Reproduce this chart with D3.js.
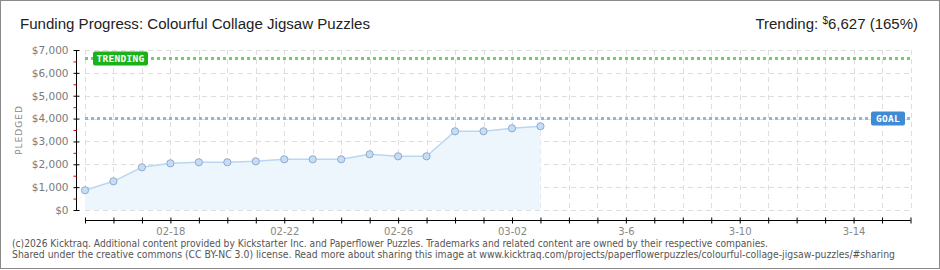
<!DOCTYPE html>
<html><head><meta charset="utf-8">
<script src="https://cdn.jsdelivr.net/npm/d3@7/dist/d3.min.js"></script>
<style>
html,body{margin:0;padding:0;background:#fff;}
svg{display:block;}
</style></head>
<body>
<svg id="c" width="940" height="270"></svg>
<script>
const titleText = "Funding Progress: Colourful Collage Jigsaw Puzzles";
const dates = ["2026-02-15","2026-02-16","2026-02-17","2026-02-18","2026-02-19","2026-02-20","2026-02-21","2026-02-22","2026-02-23","2026-02-24","2026-02-25","2026-02-26","2026-02-27","2026-02-28","2026-03-01","2026-03-02","2026-03-03"];
const pledged = [862,1255,1868,2043,2087,2087,2130,2218,2218,2218,2437,2349,2349,3443,3443,3574,3662];
const goal = 4000;
const trending = 6627;
const trendingPct = "165%";
const yTicks = [0,1000,2000,3000,4000,5000,6000,7000];
const yMinorTicks = [500,1500,2500,3500,4500,5500,6500];
const xTickDates = ["2026-02-18","2026-02-22","2026-02-26","2026-03-02","2026-03-06","2026-03-10","2026-03-14"];
const xTickLabels = ["02-18","02-22","02-26","03-02","3-6","3-10","3-14"];
const domainStart = "2026-02-15", domainEnd = "2026-03-16";
const footer1 = "(c)2026 Kicktraq. Additional content provided by Kickstarter Inc. and Paperflower Puzzles. Trademarks and related content are owned by their respective companies.";
const footer2 = "Shared under the creative commons (CC BY-NC 3.0) license. Read more about sharing this image at www.kicktraq.com/projects/paperflowerpuzzles/colourful-collage-jigsaw-puzzles/#sharing";

const parse = d3.utcParse("%Y-%m-%d");
const svg = d3.select("#c");
const W = 940, H = 270;
const L = 85, R = 910.5, T = 50, B = 210;

svg.append("rect").attr("x",0.5).attr("y",0.5).attr("width",W-1).attr("height",H-2)
  .attr("fill","#fff").attr("stroke","#8a8a8a");

const x = d3.scaleUtc().domain([parse(domainStart), parse(domainEnd)]).range([L, R]);
const y = d3.scaleLinear().domain([0,7000]).range([B, T]);
const allDays = d3.utcDay.range(parse(domainStart), d3.utcDay.offset(parse(domainEnd),1));

// grid
const grid = svg.append("g").attr("stroke","#dedede").attr("stroke-dasharray","5,4").attr("stroke-width",1);
allDays.forEach(d=>{
  grid.append("line").attr("x1",Math.round(x(d))+0.5).attr("x2",Math.round(x(d))+0.5).attr("y1",T).attr("y2",B);
});
yTicks.forEach(v=>{
  grid.append("line").attr("x1",L).attr("x2",R).attr("y1",Math.round(y(v))+0.5).attr("y2",Math.round(y(v))+0.5);
});

const pts = dates.map((d,i)=>({d:parse(d), v:pledged[i]}));
// area
svg.append("path").datum(pts)
  .attr("d", d3.area().x(p=>x(p.d)).y0(y(0)).y1(p=>y(p.v)))
  .attr("fill","#edf5fd");
svg.append("path").datum(pts)
  .attr("d", d3.line().x(p=>x(p.d)).y(p=>y(p.v)))
  .attr("fill","none").attr("stroke","#b9d7f4").attr("stroke-width",1.5);

// goal and trending lines
svg.append("line").attr("x1",L).attr("x2",R).attr("y1",y(trending)).attr("y2",y(trending))
  .attr("stroke","#6fcf6f").attr("stroke-width",3).attr("stroke-dasharray","3,3");
svg.append("line").attr("x1",L).attr("x2",R).attr("y1",y(goal)).attr("y2",y(goal))
  .attr("stroke","#8fb5e2").attr("stroke-width",3).attr("stroke-dasharray","3,3");

// points
svg.append("g").selectAll("circle").data(pts).join("circle")
  .attr("cx",p=>x(p.d)).attr("cy",p=>y(p.v)).attr("r",3.6)
  .attr("fill","#c4def9").attr("stroke","#93a9c6").attr("stroke-width",1);

// labels
function tag(xx, yy, w, text, color){
  svg.append("rect").attr("x",xx).attr("y",yy-7).attr("width",w).attr("height",14).attr("rx",2)
    .attr("fill",color);
  svg.append("text").attr("x",xx+w/2).attr("y",yy+3.5).attr("text-anchor","middle")
    .attr("font-family","DejaVu Sans Mono, monospace").attr("font-size",9.5).attr("font-weight","bold")
    .attr("fill","#fff").attr("letter-spacing",0.3).text(text);
}
tag(93, y(trending), 55, "TRENDING", "#19b219");
tag(871, y(goal), 34, "GOAL", "#3f8bd6");

// y axis
const yAxis = d3.axisLeft(y).tickValues(yTicks).tickSize(3).tickPadding(5)
  .tickFormat(v=>"$"+d3.format(",")(v));
const gy = svg.append("g").attr("transform","translate(76.5,0)").call(yAxis);
gy.select(".domain").attr("stroke","#000").attr("d",`M0,${T}V${B}`);
gy.selectAll(".tick line").attr("stroke","#000").attr("x2",-3).attr("x1",3);
gy.selectAll(".tick text").attr("fill","#7a7a7a").attr("font-family","DejaVu Sans, sans-serif").attr("font-size",10.5);
const gym = svg.append("g").attr("transform","translate(76.5,0)")
  .call(d3.axisLeft(y).tickValues(yMinorTicks).tickSize(3).tickFormat(""));
gym.select(".domain").remove();
gym.selectAll(".tick line").attr("stroke","#e00000");

svg.append("text").attr("transform","translate(22,130) rotate(-90)").attr("text-anchor","middle")
  .attr("font-family","DejaVu Sans, sans-serif").attr("font-size",9).attr("fill","#888")
  .attr("letter-spacing",1).text("PLEDGED");

// x axis
const labelMap = new Map(xTickDates.map((d,i)=>[+parse(d), xTickLabels[i]]));
const xAxis = d3.axisBottom(x).tickValues(allDays).tickSize(3).tickPadding(4)
  .tickFormat(d=>labelMap.get(+d)||"");
const gx = svg.append("g").attr("transform","translate(0,220.5)").call(xAxis);
gx.select(".domain").attr("stroke","#000").attr("d",`M${L},0H${R}`);
gx.selectAll(".tick line").attr("stroke","#000").attr("y1",-3).attr("y2",3);
gx.selectAll(".tick text").attr("fill","#888").attr("font-family","DejaVu Sans, sans-serif").attr("font-size",10);

// title
svg.append("text").attr("x",20).attr("y",29).attr("font-family","Liberation Sans, Arial, sans-serif")
  .attr("font-size",15.5).attr("fill","#222").attr("textLength",350).attr("lengthAdjust","spacingAndGlyphs").text(titleText);
const tt = svg.append("text").attr("x",918).attr("y",29).attr("text-anchor","end")
  .attr("font-family","Liberation Sans, Arial, sans-serif").attr("font-size",15).attr("fill","#222");
tt.append("tspan").text("Trending:  ");
tt.append("tspan").attr("font-size",10).attr("dy",-5).text("$");
tt.append("tspan").attr("dy",5).text(d3.format(",")(trending)+" ("+trendingPct+")");

// footer
svg.append("text").attr("x",12).attr("y",246.5).attr("font-family","DejaVu Sans Condensed, DejaVu Sans, sans-serif").attr("font-size",10)
  .attr("fill","#555").attr("textLength",756).attr("lengthAdjust","spacingAndGlyphs").text(footer1);
svg.append("text").attr("x",12).attr("y",258).attr("font-family","DejaVu Sans Condensed, DejaVu Sans, sans-serif").attr("font-size",10)
  .attr("fill","#555").attr("textLength",883).attr("lengthAdjust","spacingAndGlyphs").text(footer2);
</script>
</body></html>
